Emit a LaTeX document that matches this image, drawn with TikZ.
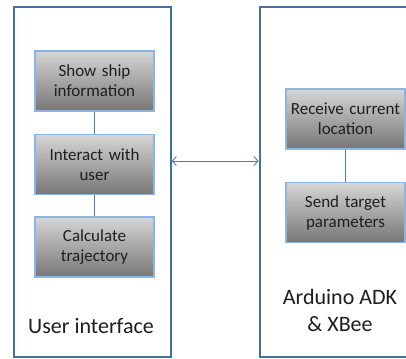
\documentclass[tikz,border=0pt]{standalone}
\usepackage{fontspec}
\setmainfont{Carlito}
\usetikzlibrary{arrows.meta,positioning}
\definecolor{frameblue}{RGB}{65,113,156}
\definecolor{edgeblue}{RGB}{141,180,226}
\definecolor{linkblue}{RGB}{74,126,187}
\definecolor{shadetop}{RGB}{214,214,214}
\definecolor{shadebot}{RGB}{118,118,118}
\definecolor{inktext}{RGB}{30,30,30}
\tikzset{
  framebox/.style={rectangle,draw=frameblue,line width=2pt,fill=white,
    minimum width=157pt,minimum height=350pt,inner sep=0pt},
  taskbox/.style={rectangle,draw=edgeblue,line width=1.6pt,
    top color=shadetop,bottom color=shadebot,
    minimum width=119pt,minimum height=60pt,text width=115pt,align=center,
    font=\fontsize{17}{20}\selectfont,text=inktext,inner sep=2pt},
  titletext/.style={align=center,font=\fontsize{22}{27}\selectfont,text=inktext},
  link/.style={draw=linkblue,line width=0.9pt},
  duplex/.style={{Straight Barb[length=4pt,width=9pt]}-{Straight Barb[length=4pt,width=9pt]},
    draw=linkblue,line width=0.9pt},
}

\begin{document}
\begin{tikzpicture}[node distance=22pt]
  \useasboundingbox (0,0) rectangle (406pt,358pt);
  \clip (0,0) rectangle (406pt,358pt);
  % outer frames
  \node[framebox] (ui)  at (92.25pt,176pt) {};
  \node[framebox] (ard) at (338pt,176pt) {};
  % tasks
  \node[taskbox] (show) at (94.5pt,277pt) {Show ship\\information};
  \node[taskbox, below=of show]          (interact) {Interact with\\user};
  \node[taskbox, below=21pt of interact] (calc)     {Calculate\\trajectory};
  \node[taskbox] (recv) at (345.5pt,239pt) {Receive current\\location};
  \node[taskbox, below=32pt of recv]     (send)     {Send target\\parameters};
  \node[titletext] (uilabel)  at (91pt,32pt)  {User interface};
  \node[titletext] (ardlabel) at (340pt,48pt) {Arduino ADK\\\& XBee};
  \draw[link] (show) -- (interact);
  \draw[link] (interact) -- (calc);
  \draw[link] (recv) -- (send);
  \draw[duplex] ([yshift=21pt]ui.east) -- ([yshift=21pt]ard.west);
\end{tikzpicture}
\end{document}
